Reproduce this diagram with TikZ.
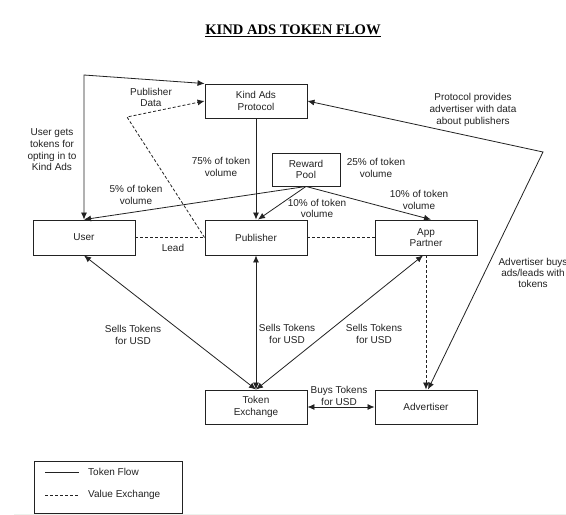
\documentclass[tikz,border=0pt]{standalone}
\usepackage{fontspec}
\setmainfont{Liberation Sans}
\newfontfamily\titlefont{Liberation Serif}
\usetikzlibrary{arrows.meta}
\definecolor{ink}{HTML}{222222}
\definecolor{edge}{HTML}{EDF2ED}
\tikzset{
  box/.style={draw=ink, line width=0.9pt, minimum width=102pt, minimum height=34pt, inner sep=0pt, align=center, text=ink, font=\fontsize{10}{11.6}\selectfont},
  lbl/.style={align=center, inner sep=0pt, text=ink, font=\fontsize{10}{11.6}\selectfont},
  tok/.style={draw=ink, line width=0.8pt},
  val/.style={draw=ink, line width=0.8pt, dash pattern=on 3pt off 2pt},
  tip/.style={-{Latex[length=7pt,width=6pt]}},
  tips/.style={{Latex[length=7pt,width=6pt]}-{Latex[length=7pt,width=6pt]}}
}
\begin{document}
\begin{tikzpicture}[x=1pt,y=-1pt]
\useasboundingbox (0,0) rectangle (566,515);
\fill[white] (0,0) rectangle (566,515);
\draw[edge, line width=1pt] (14,514) -- (566,514);

% title
\node[inner sep=0pt, font={\titlefont\bfseries\fontsize{14.6}{16}\selectfont}] (title) at (293,31) {\underline{KIND ADS TOKEN FLOW}};

% boxes
\node[box] (kap) at (256,101) {Kind Ads\\Protocol};
\node[box, minimum width=68pt, minimum height=33pt] (rp) at (306,169.5) {Reward\\Pool};
\node[box, minimum height=35pt] (user) at (84,237.5) {User};
\node[box, minimum height=35pt] (pub) at (256,237.5) {Publisher};
\node[box, minimum height=35pt] (app) at (426,237.5) {App\\Partner};
\node[box] (tex) at (256,407) {Token\\Exchange};
\node[box] (adv) at (426,407) {Advertiser};

% bend points
\coordinate (c1) at (84,75);
\coordinate (c2) at (127,117);
\coordinate (c3) at (543,152);

% connectors
\draw[tok, tips] (user.north) -- (c1) -- (kap.north west);
\draw[val, tip] (pub.west) -- (c2) -- (kap.west);
\draw[val] (user.east) -- (pub.west);
\draw[tok, tip] (kap.south) -- (pub.north);
\draw[tok, tip] (rp.south) -- (user.north);
\draw[tok, tip] (rp.south) -- ([xshift=2pt]pub.north);
\draw[tok, tip] (rp.south) -- ([xshift=5pt]app.north);
\draw[val] (pub.east) -- (app.west);
\draw[tok, tips] (kap.east) -- (c3) -- ([xshift=2pt]adv.north);
\draw[val, tip] (app.south) -- (adv.north);
\draw[tok, tips] (user.south) -- (tex.north);
\draw[tok, tips] (pub.south) -- (tex.north);
\draw[tok, tips] ([xshift=-3pt]app.south) -- (tex.north);
\draw[tok, tips] (tex.east) -- (adv.west);

% labels
\node[lbl] (l1) at (151,97.5) {Publisher\\Data};
\node[lbl] (l2) at (473,110) {Protocol provides\\advertiser with data\\about publishers};
\node[lbl] (l3) at (52,150) {User gets\\tokens for\\opting in to\\Kind Ads};
\node[lbl] (l4) at (221,167) {75\% of token\\volume};
\node[lbl] (l5) at (136,195) {5\% of token\\volume};
\node[lbl] (l6) at (376,168) {25\% of token\\volume};
\node[lbl] (l7) at (317,208.5) {10\% of token\\volume};
\node[lbl] (l8) at (419,200) {10\% of token\\volume};
\node[lbl] (l9) at (173,248) {Lead};
\node[lbl, font=\fontsize{10}{10.7}\selectfont] (l10) at (533,273) {Advertiser buys\\ads/leads with\\tokens};
\node[lbl] (l11) at (133,335) {Sells Tokens\\for USD};
\node[lbl] (l12) at (287,334) {Sells Tokens\\for USD};
\node[lbl] (l13) at (374,334) {Sells Tokens\\for USD};
\node[lbl] (l14) at (339,396) {Buys Tokens\\for USD};

% legend
\node[draw=ink, line width=0.9pt, minimum width=148pt, minimum height=52pt, inner sep=0pt] (legend) at (108,487) {};
\coordinate (la1) at (45,472);
\coordinate (la2) at (79,472);
\coordinate (lb1) at (45,495);
\coordinate (lb2) at (79,495);
\draw[tok] (la1) -- (la2);
\draw[val] (lb1) -- (lb2);
\node[lbl, anchor=west] (lt1) at (88,472) {Token Flow};
\node[lbl, anchor=west] (lt2) at (88,495) {Value Exchange};
\end{tikzpicture}
\end{document}
